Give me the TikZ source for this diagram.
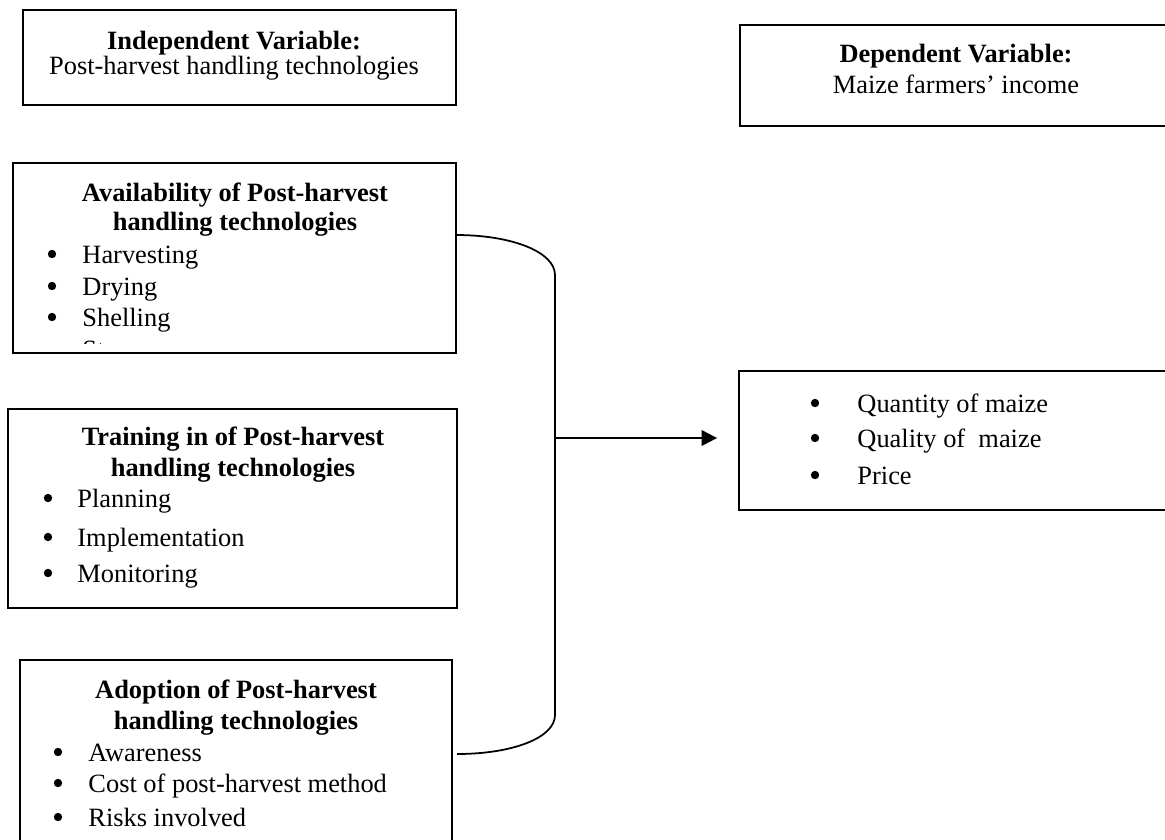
\documentclass[tikz,border=0pt]{standalone}
\usepackage{fontspec}
\setmainfont{Liberation Serif}
\usetikzlibrary{arrows.meta,fit}
\begin{document}
\begin{tikzpicture}[x=0.4545pt,y=-0.4545pt,
  box/.style={draw, line width=0.9pt, inner sep=0pt},
  txt/.style={inner sep=0pt, text height=0.7em, text depth=0.25em, yshift=-2pt, font=\fontsize{12}{14}\selectfont},
  ttl/.style={txt, font=\fontsize{12}{14}\selectfont\bfseries},
  itm/.style={txt, anchor=west},
  bul/.style={circle, fill, inner sep=0pt, minimum size=3.8pt},
  link/.style={line width=0.8pt}
]
\useasboundingbox (0,0) rectangle (1165,839);
\clip (0,0) rectangle (1165,839);

% Independent variable
\node[box, fit={(23,10) (456,105)}] (indep) {};
\node[ttl] (indepT) at (234,40) {Independent Variable:};
\node[txt] (indepS) at (234,65) {Post-harvest handling technologies};

% Dependent variable
\node[box, fit={(740,25) (1180,126)}] (dep) {};
\node[ttl] (depT) at (956,53) {Dependent Variable:};
\node[txt] (depS) at (956,84) {Maize farmers’ income};

% Availability
\node[box, fit={(13,163) (456,353)}] (avail) {};
\node[ttl] (availT1) at (235,192) {Availability of Post-harvest};
\node[ttl] (availT2) at (235,221) {handling technologies};
\foreach \t/\y [count=\i] in {Harvesting/254, Drying/286, Shelling/317}{
  \node[bul] (ab\i) at (52,\y) {};
  \node[itm] (a\i) at (82,\y) {\t};
}
\begin{scope}
  \clip (0,0) rectangle (1165,343);
  \node[itm] (a4) at (82,349) {Storage};
\end{scope}

% Training
\node[box, fit={(8,409) (457,608)}] (train) {};
\node[ttl] (trainT1) at (233,436) {Training in of Post-harvest};
\node[ttl] (trainT2) at (233,467) {handling technologies};
\foreach \t/\y [count=\i] in {Planning/498, Implementation/537, Monitoring/573}{
  \node[bul] (tb\i) at (48,\y) {};
  \node[itm] (t\i) at (77,\y) {\t};
}

% Adoption
\node[box, fit={(20,660) (452,860)}] (adopt) {};
\node[ttl] (adoptT1) at (236,689) {Adoption of Post-harvest};
\node[ttl] (adoptT2) at (236,720) {handling technologies};
\foreach \t/\y [count=\i] in {Awareness/752, Cost of post-harvest method/783, Risks involved/817}{
  \node[bul] (db\i) at (58,\y) {};
  \node[itm] (d\i) at (88,\y) {\t};
}

% Result box
\node[box, fit={(739,371) (1180,510)}] (res) {};
\foreach \t/\y [count=\i] in {Quantity of maize/403, Quality of\ \ maize/438, Price/475}{
  \node[bul] (rb\i) at (815,\y) {};
  \node[itm] (r\i) at (857,\y) {\t};
}

% Connectors
\coordinate (c1) at (456,235);
\coordinate (c2) at (555,275);
\coordinate (c3) at (555,715);
\coordinate (c4) at (457,754);
\coordinate (j) at (555,438);
\draw[link] (c1) .. controls (512,235) and (555,252) .. (c2) -- (c3)
  .. controls (555,738) and (512,754) .. (c4);
\draw[link, line width=0.9pt, -{Triangle[length=7pt,width=7pt]}, shorten >=9.5pt] (j) -- (res.west |- j);
\end{tikzpicture}
\end{document}
